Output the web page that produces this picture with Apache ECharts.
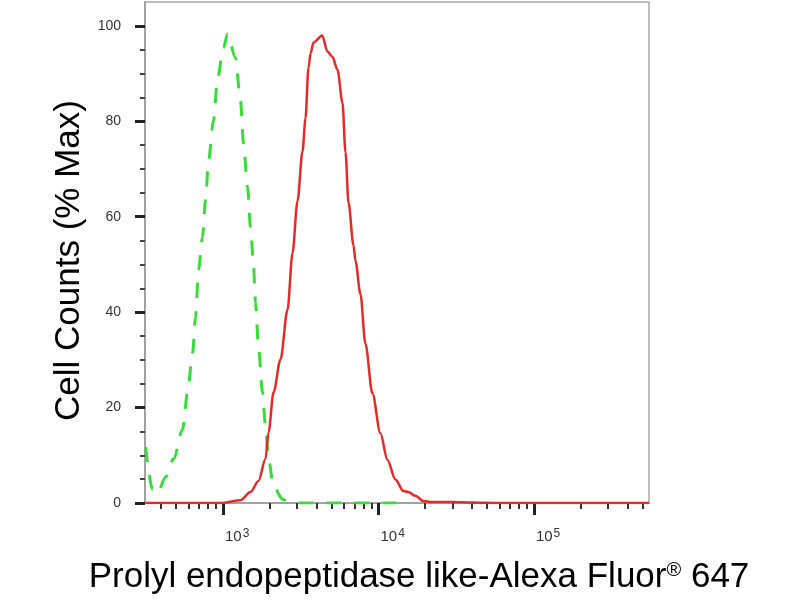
<!DOCTYPE html>
<html>
<head>
<meta charset="utf-8">
<script src="https://cdn.jsdelivr.net/npm/echarts@6/dist/echarts.min.js"></script>
<style>html,body{margin:0;padding:0;background:#fff}#c{width:800px;height:600px}</style>
</head>
<body>
<div id="c"></div>
<script>
// Isotype control (green dashed): [fluorescence, % max]
const controlX = [318, 352, 379, 427, 481, 549, 592, 637, 666, 696, 738, 772, 807, 869, 922, 1007, 1069, 1203, 1296, 1355, 1438, 1504, 1571, 1618, 1691, 1795, 1877, 1963, 2114, 2415, 2719, 3148, 5000, 8000, 13000];
const controlY = [11.7, 2.9, 2.0, 5.4, 9.2, 15.4, 23.2, 31.5, 39, 48.9, 55.7, 63.5, 71.8, 80.2, 88.9, 95.4, 98.3, 93.3, 84.3, 75.4, 66.2, 57.8, 49.9, 42, 32.8, 23.2, 16.1, 9.2, 3.5, 0.8, 0.1, 0, 0, 0, 0];
// Antibody sample (red solid)
const sampleX = [318, 993, 1296, 1504, 1691, 1877, 1963, 2114, 2344, 2601, 2800, 3016, 3247, 3394, 3548, 3657, 3822, 4346, 4699, 5060, 5450, 5870, 6138, 6417, 6909, 7118, 7659, 8245, 9142, 10300, 11430, 12860, 14480, 15600, 17300, 19470, 21600, 30000, 40000, 60000, 550000];
const sampleY = [0, 0, 0.6, 2.3, 4.6, 9.2, 14.8, 23.2, 30.1, 40.5, 52.4, 63.3, 73.7, 80.6, 91.2, 94.2, 96.5, 98, 94.6, 93.5, 90.8, 83.9, 73.5, 63, 54, 50.7, 43.8, 33.4, 23, 14.6, 9, 4.9, 2.5, 2.3, 1.5, 0.4, 0.2, 0.2, 0.1, 0, 0];
// Axis ticks
const xMajorTicks = [1000, 10000, 100000];
const xMajorExponents = ['3', '4', '5'];
const xMinorTicks = [400, 500, 600, 700, 800, 900, 2000, 3000, 4000, 5000, 6000, 7000, 8000, 9000, 20000, 30000, 40000, 50000, 60000, 70000, 80000, 90000, 200000, 300000, 400000, 500000];
const yMajorTicks = [0, 20, 40, 60, 80, 100];
const yMinorTicks = [5, 10, 15, 25, 30, 35, 45, 50, 55, 65, 70, 75, 85, 90, 95];

const FONT = 'Liberation Sans, Arial, sans-serif';
const XMIN = 315, XMAX = 550000, YMAX = 105;

const chart = echarts.init(document.getElementById('c'), null, {renderer: 'canvas'});
chart.setOption({
  animation: false,
  backgroundColor: '#fff',
  grid: {left: 145, right: 151, top: 2, bottom: 96, show: true, borderColor: '#a8a8a8', borderWidth: 1.5, backgroundColor: '#fff'},
  xAxis: [{
    type: 'log', logBase: 10, min: XMIN, max: XMAX, position: 'bottom',
    axisLine: {show: true, lineStyle: {color: '#999', width: 1.5}},
    axisTick: {show: true, customValues: xMajorTicks, length: 12, lineStyle: {color: '#222', width: 3}},
    axisLabel: {
      show: true, customValues: xMajorTicks, margin: 25, align: 'left', padding: [0, 0, 0, 2],
      formatter: function (v) { return '{b|10}{s|' + xMajorExponents[xMajorTicks.indexOf(v)] + '}'; },
      rich: {
        b: {fontSize: 15, lineHeight: 16, verticalAlign: 'bottom', color: '#333', fontFamily: FONT},
        s: {fontSize: 12, lineHeight: 12, verticalAlign: 'top', padding: [0, 0, 15, 1], color: '#333', fontFamily: FONT}
      }
    },
    splitLine: {show: false},
    name: 'Prolyl endopeptidase like-Alexa Fluor{r|®} 647',
    nameLocation: 'middle', nameGap: 57,
    nameTextStyle: {
      fontSize: 35, color: '#000', fontFamily: FONT, padding: [0, 0, 0, 44],
      rich: {r: {fontSize: 20, verticalAlign: 'top', color: '#000', fontFamily: FONT}}
    }
  }, {
    type: 'log', logBase: 10, min: XMIN, max: XMAX, position: 'bottom',
    axisLine: {show: false},
    axisTick: {show: true, customValues: xMinorTicks, length: 6, lineStyle: {color: '#333', width: 2}},
    axisLabel: {show: false},
    splitLine: {show: false}
  }],
  yAxis: [{
    type: 'value', min: 0, max: YMAX, position: 'left',
    axisLine: {show: true, lineStyle: {color: '#999', width: 1.5}},
    axisTick: {show: true, customValues: yMajorTicks, length: 10, lineStyle: {color: '#222', width: 3}},
    axisLabel: {show: true, customValues: yMajorTicks, margin: 24, fontSize: 14, color: '#333', fontFamily: FONT},
    splitLine: {show: false},
    name: 'Cell Counts (% Max)', nameLocation: 'middle', nameGap: 56,
    nameTextStyle: {fontSize: 35, color: '#000', fontFamily: FONT, padding: [0, 16, 0, 0]}
  }, {
    type: 'value', min: 0, max: YMAX, position: 'left',
    axisLine: {show: false},
    axisTick: {show: true, customValues: yMinorTicks, length: 5, lineStyle: {color: '#444', width: 2}},
    axisLabel: {show: false},
    splitLine: {show: false}
  }],
  series: [{
    type: 'line', name: 'Control', xAxisIndex: 0, yAxisIndex: 0,
    data: controlX.map((x, i) => [x, controlY[i]]),
    showSymbol: false, smooth: 0.3, smoothMonotone: 'x',
    lineStyle: {color: '#38dc38', width: 3, type: [15, 13]},
    z: 3
  }, {
    type: 'line', name: 'Sample', xAxisIndex: 0, yAxisIndex: 0,
    data: sampleX.map((x, i) => [x, sampleY[i]]),
    showSymbol: false, smooth: 0.3, smoothMonotone: 'x',
    lineStyle: {color: '#e62a2a', width: 2.5},
    z: 4
  }]
});
</script>
</body>
</html>
